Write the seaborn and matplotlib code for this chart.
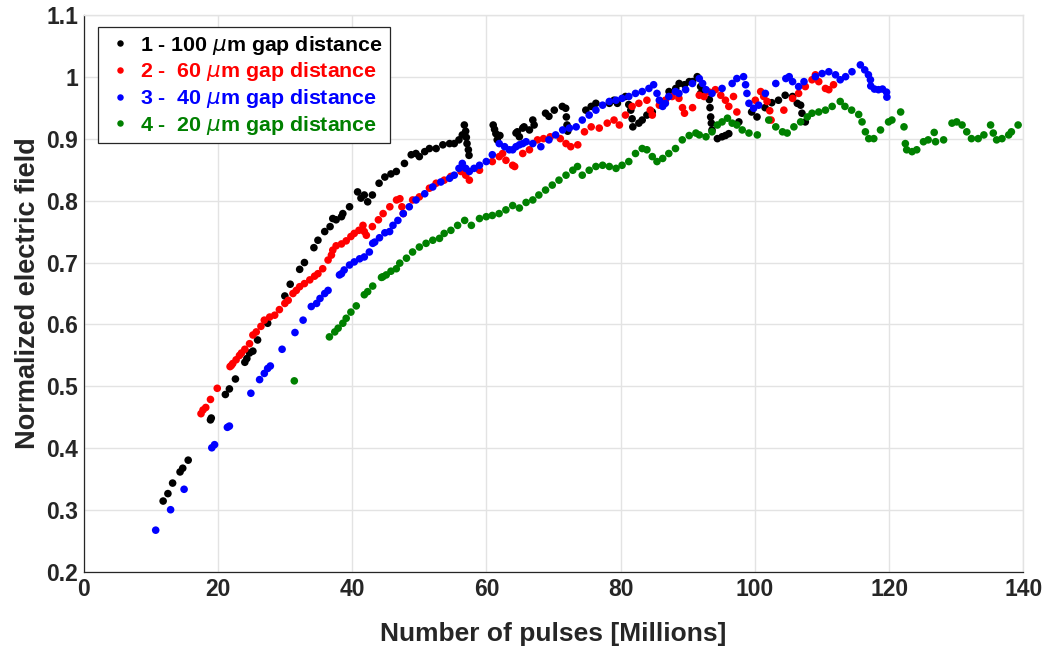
import numpy as np
import pandas as pd
import matplotlib
matplotlib.use("Agg")
import matplotlib.pyplot as plt
import seaborn as sns

# Normalized electric field versus number of pulses for four gap distances
gap_labels = [
    r"1 - 100 $\mu$m gap distance",
    r"2 -  60 $\mu$m gap distance",
    r"3 -  40 $\mu$m gap distance",
    r"4 -  20 $\mu$m gap distance",
]
series_colors = ["#000000", "#ff0000", "#0000ff", "#008000"]

pulses_100 = [11.83, 12.54, 13.24, 14.35, 14.75, 15.56, 18.88, 19.0, 21.1, 21.7, 22.6, 24.0, 24.3,
              24.7, 25.2, 25.9, 27.4, 29.96, 30.76, 32.17, 32.88, 34.29, 34.89, 35.9, 36.7, 37.1,
              37.6, 38.4, 38.6, 39.6, 40.8, 41.3, 41.8, 42.3, 43.0, 44.0, 44.86, 45.77, 46.57,
              47.78, 48.79, 49.49, 50.0, 50.8, 51.5, 52.5, 53.5, 54.5, 55.2, 55.9, 56.4, 56.7,
              56.9, 57.0, 57.1, 57.3, 57.4, 61.0, 61.2, 61.4, 61.6, 62.0, 64.4, 64.6, 64.9, 65.4,
              65.6, 66.4, 66.9, 67.1, 68.8, 69.3, 70.1, 71.3, 71.8, 71.9, 72.0, 72.1, 74.8, 75.6,
              76.3, 78.3, 79.0, 79.5, 80.7, 81.2, 81.5, 81.7, 81.8, 82.7, 83.2, 83.9, 84.7, 87.2,
              88.2, 88.7, 89.5, 90.2, 90.7, 91.4, 91.9, 91.9, 93.2, 93.3, 93.4, 93.5, 93.6, 94.4,
              95.1, 95.6, 96.1, 97.6, 99.5, 100.3, 101.5, 102.5, 103.5, 104.5, 105.6, 106.3,
              106.8, 107.0, 107.5]
field_100 = [0.315, 0.327, 0.344, 0.362, 0.368, 0.381, 0.446, 0.449, 0.487, 0.496, 0.512, 0.539, 0.545,
             0.554, 0.557, 0.575, 0.602, 0.646, 0.665, 0.689, 0.700, 0.724, 0.736, 0.750, 0.758, 0.771,
             0.769, 0.774, 0.779, 0.790, 0.814, 0.804, 0.809, 0.798, 0.809, 0.828, 0.838, 0.843, 0.847,
             0.860, 0.874, 0.876, 0.871, 0.879, 0.884, 0.884, 0.890, 0.892, 0.892, 0.898, 0.906, 0.922,
             0.912, 0.902, 0.892, 0.882, 0.873, 0.922, 0.915, 0.908, 0.898, 0.905, 0.909, 0.911, 0.903,
             0.917, 0.919, 0.914, 0.930, 0.922, 0.941, 0.936, 0.946, 0.952, 0.949, 0.935, 0.922, 0.912,
             0.946, 0.952, 0.957, 0.957, 0.962, 0.957, 0.968, 0.955, 0.946, 0.932, 0.919, 0.925, 0.930,
             0.938, 0.943, 0.976, 0.981, 0.989, 0.987, 0.992, 0.992, 1.000, 0.984, 0.973, 0.963, 0.950,
             0.935, 0.925, 0.914, 0.900, 0.903, 0.905, 0.908, 0.927, 0.943, 0.935, 0.950, 0.958, 0.962,
             0.970, 0.968, 0.957, 0.954, 0.941, 0.927]

pulses_60 = [17.47, 17.77, 18.18, 18.88, 19.89, 21.8, 22.0, 22.2, 22.7, 23.2, 23.5, 24.0, 24.7, 25.2,
             25.7, 26.4, 26.9, 27.7, 28.45, 29.15, 29.96, 30.46, 31.17, 31.67, 32.17, 32.88, 33.68,
             34.39, 34.89, 35.6, 36.4, 36.9, 37.1, 37.6, 38.4, 39.1, 39.8, 40.3, 41.0, 41.6, 41.8, 42.1,
             43.0, 43.9, 44.6, 45.6, 46.6, 47.1, 47.4, 47.6, 49.0, 50.0, 51.5, 52.5, 53.7, 54.7, 56.2,
             56.9, 57.45, 58.96, 60.87, 61.9, 62.4, 62.9, 63.9, 64.2, 65.4, 66.4, 67.6, 68.5, 69.5, 71.0,
             71.85, 72.55, 73.6, 74.6, 75.6, 76.8, 77.99, 79.0, 79.8, 80.7, 81.7, 82.7, 83.9, 84.4, 84.7,
             85.75, 86.65, 87.66, 88.67, 89.2, 89.5, 90.7, 91.7, 92.4, 93.2, 94.1, 94.9, 95.6, 96.1,
             96.8, 97.3, 100.05, 100.85, 101.3, 101.8, 102.2, 102.4, 104.3, 105.6, 106.5, 107.5, 108.5,
             109.0, 109.5, 110.5, 111.0, 111.7]
field_60 = [0.456, 0.462, 0.466, 0.479, 0.497, 0.532, 0.534, 0.537, 0.543, 0.550, 0.554, 0.560, 0.569, 0.583,
            0.588, 0.597, 0.607, 0.612, 0.615, 0.624, 0.634, 0.639, 0.650, 0.655, 0.661, 0.666, 0.672,
            0.678, 0.682, 0.690, 0.704, 0.712, 0.720, 0.727, 0.730, 0.735, 0.742, 0.747, 0.752, 0.760, 0.750,
            0.744, 0.758, 0.769, 0.779, 0.790, 0.801, 0.803, 0.790, 0.779, 0.801, 0.806, 0.820, 0.828, 0.833,
            0.839, 0.847, 0.841, 0.833, 0.849, 0.863, 0.871, 0.876, 0.865, 0.857, 0.855, 0.876, 0.882, 0.898,
            0.900, 0.903, 0.900, 0.892, 0.887, 0.890, 0.911, 0.919, 0.917, 0.925, 0.930, 0.922, 0.938, 0.952,
            0.957, 0.962, 0.946, 0.938, 0.954, 0.962, 0.968, 0.965, 0.950, 0.941, 0.950, 0.970, 0.968, 0.975,
            0.979, 0.970, 0.962, 0.952, 0.968, 0.943, 0.962, 0.976, 0.968, 0.960, 0.945, 0.930, 0.946, 0.965,
            0.973, 0.984, 0.995, 1.003, 0.992, 0.981, 0.979, 0.987]

pulses_40 = [10.72, 12.94, 14.95, 19.08, 19.49, 21.4, 21.7, 24.9, 26.2, 26.9, 27.4, 27.8, 29.55, 31.47,
             32.68, 33.9, 34.69, 35.2, 35.9, 36.4, 38.1, 38.4, 38.8, 39.6, 40.3, 41.1, 41.8, 42.55, 43.05,
             43.35, 44.06, 44.86, 45.57, 46.07, 46.8, 47.6, 48.5, 49.5, 50.8, 52.0, 53.2, 54.5, 55.2, 55.9,
             56.4, 56.9, 57.45, 58.15, 58.96, 59.97, 60.87, 61.9, 62.7, 63.4, 63.9, 64.4, 64.9, 65.4, 65.9,
             66.9, 68.1, 69.3, 70.3, 71.35, 72.35, 73.36, 74.27, 75.3, 76.3, 77.3, 78.3, 79.3, 80.2, 81.2,
             82.2, 83.2, 84.2, 84.9, 85.4, 85.75, 86.25, 86.65, 87.16, 88.16, 88.67, 89.67, 90.68, 91.7,
             92.2, 92.7, 93.6, 95.1, 96.6, 97.3, 98.3, 98.6, 98.8, 99.1, 99.8, 100.55, 101.55, 103.1,
             104.6, 105.1, 105.6, 106.5, 107.3, 109.0, 110.0, 111.0, 112.0, 112.7, 113.5, 114.45, 115.7,
             116.35, 116.9, 117.2, 117.25, 117.8, 118.4, 119.0, 119.6, 119.65]
field_40 = [0.268, 0.301, 0.334, 0.401, 0.406, 0.434, 0.436, 0.489, 0.511, 0.521, 0.529, 0.533, 0.560, 0.587,
            0.607, 0.629, 0.634, 0.642, 0.650, 0.655, 0.680, 0.682, 0.688, 0.696, 0.701, 0.706, 0.709, 0.717,
            0.731, 0.733, 0.740, 0.748, 0.750, 0.760, 0.768, 0.779, 0.790, 0.801, 0.811, 0.822, 0.830, 0.836,
            0.841, 0.852, 0.860, 0.852, 0.847, 0.852, 0.857, 0.863, 0.874, 0.892, 0.887, 0.882, 0.882, 0.887,
            0.890, 0.892, 0.895, 0.892, 0.887, 0.898, 0.906, 0.914, 0.917, 0.919, 0.930, 0.938, 0.946, 0.954,
            0.960, 0.962, 0.965, 0.968, 0.973, 0.976, 0.981, 0.987, 0.973, 0.962, 0.952, 0.957, 0.968, 0.976,
            0.973, 0.979, 0.989, 0.997, 0.989, 0.979, 0.973, 0.981, 0.989, 0.997, 1.000, 0.987, 0.973, 0.957,
            0.949, 0.954, 0.973, 0.989, 0.997, 1.000, 0.992, 0.984, 0.992, 1.000, 1.005, 1.008, 1.003, 0.995,
            1.000, 1.008, 1.019, 1.011, 1.003, 0.995, 0.985, 0.980, 0.979, 0.980, 0.975, 0.967]

pulses_20 = [31.37, 36.6, 37.4, 37.9, 38.6, 39.1, 39.8, 40.6, 41.8, 42.3, 43.05, 44.36, 44.56, 45.06,
             45.77, 46.57, 47.08, 48.08, 48.99, 50.0, 51.0, 52.0, 53.0, 53.7, 54.7, 55.7, 56.75, 57.75,
             58.96, 59.97, 60.87, 61.88, 62.89, 63.9, 64.9, 65.9, 66.9, 67.8, 68.8, 69.8, 70.8, 71.85,
             72.86, 73.56, 74.27, 75.3, 76.3, 77.3, 78.3, 79.3, 80.2, 81.2, 82.2, 83.2, 83.9, 84.7, 85.4,
             86.25, 87.16, 88.16, 89.17, 90.2, 91.2, 91.7, 92.7, 93.6, 94.4, 95.1, 95.9, 96.6, 97.3, 98.1,
             99.1, 100.35, 102.05, 103.1, 104.1, 104.8, 105.8, 106.8, 107.8, 108.5, 109.5, 110.5, 111.5,
             112.7, 113.4, 114.4, 115.45, 115.95, 116.45, 116.95, 117.7, 118.7, 119.9, 120.4, 121.7,
             122.2, 122.4, 122.6, 123.4, 124.1, 125.1, 125.8, 126.7, 126.9, 128.1, 129.35, 130.05,
             130.85, 131.55, 132.25, 133.25, 134.1, 135.1, 135.5, 136.0, 136.8, 137.8, 138.2, 139.2]
field_20 = [0.509, 0.580, 0.588, 0.594, 0.602, 0.610, 0.620, 0.630, 0.648, 0.653, 0.662, 0.676, 0.677, 0.680,
            0.686, 0.690, 0.699, 0.707, 0.717, 0.725, 0.731, 0.736, 0.739, 0.747, 0.752, 0.760, 0.768, 0.760,
            0.771, 0.774, 0.776, 0.779, 0.785, 0.792, 0.788, 0.797, 0.801, 0.809, 0.817, 0.825, 0.833, 0.841,
            0.849, 0.855, 0.841, 0.849, 0.855, 0.857, 0.855, 0.852, 0.857, 0.863, 0.876, 0.884, 0.882, 0.871,
            0.863, 0.868, 0.876, 0.884, 0.898, 0.905, 0.909, 0.906, 0.903, 0.911, 0.922, 0.927, 0.933, 0.925,
            0.922, 0.914, 0.909, 0.906, 0.930, 0.919, 0.911, 0.909, 0.919, 0.927, 0.935, 0.941, 0.943, 0.946,
            0.952, 0.960, 0.952, 0.946, 0.939, 0.927, 0.911, 0.900, 0.900, 0.914, 0.927, 0.930, 0.943, 0.919,
            0.892, 0.882, 0.879, 0.882, 0.895, 0.898, 0.910, 0.895, 0.898, 0.925, 0.927, 0.922, 0.911, 0.900,
            0.900, 0.906, 0.922, 0.909, 0.898, 0.900, 0.906, 0.911, 0.922]

x_ticks = [0, 20, 40, 60, 80, 100, 120, 140]
y_ticks = [0.2, 0.3, 0.4, 0.5, 0.6, 0.7, 0.8, 0.9, 1.0, 1.1]
y_tick_labels = ["0.2", "0.3", "0.4", "0.5", "0.6", "0.7", "0.8", "0.9", "1", "1.1"]

frames = []
for label, xs, ys in zip(gap_labels,
                         [pulses_100, pulses_60, pulses_40, pulses_20],
                         [field_100, field_60, field_40, field_20]):
    frames.append(pd.DataFrame({"pulses": xs, "field": ys, "gap": label}))
data = pd.concat(frames, ignore_index=True)

sns.set_style("whitegrid")
plt.rcParams["font.family"] = ["Liberation Sans", "DejaVu Sans"]
plt.rcParams["font.weight"] = "bold"
plt.rcParams["mathtext.fontset"] = "custom"
plt.rcParams["mathtext.rm"] = "Liberation Sans:bold"
plt.rcParams["mathtext.it"] = "DejaVu Sans:italic:normal"
plt.rcParams["mathtext.bf"] = "Liberation Sans:bold"

fig = plt.figure(figsize=(10.48, 6.46), dpi=100)
ax = fig.add_axes([0.0799, 0.1141, 0.8967, 0.8631])

sns.scatterplot(data=data, x="pulses", y="field", hue="gap", hue_order=gap_labels,
                palette=series_colors, s=30, linewidth=0, edgecolor="none", ax=ax, legend=True)

ax.set_xlim(0, 140)
ax.set_ylim(0.2, 1.1)
ax.set_xticks(x_ticks)
ax.set_xticklabels([str(t) for t in x_ticks])
ax.set_yticks(y_ticks)
ax.set_yticklabels(y_tick_labels)
ax.tick_params(axis="both", which="major", labelsize=16.5, direction="in", length=5,
               width=0.8, color="#262626", labelcolor="#262626", pad=4)
for lbl in ax.get_xticklabels() + ax.get_yticklabels():
    lbl.set_fontweight("bold")

ax.grid(True, color="#e3e3e3", linewidth=1.0)
ax.set_axisbelow(True)
for side in ("left", "bottom"):
    ax.spines[side].set_color("#262626")
    ax.spines[side].set_linewidth(0.9)
for side in ("top", "right"):
    ax.spines[side].set_color("#e3e3e3")
    ax.spines[side].set_linewidth(1.0)

ax.set_xlabel("Number of pulses [Millions]", fontsize=19, fontweight="bold", color="#262626", labelpad=15)
ax.set_ylabel("Normalized electric field", fontsize=19.5, fontweight="bold", color="#262626", labelpad=4)

leg = ax.legend(loc="upper left", bbox_to_anchor=(0.011, 0.985), frameon=True, fancybox=False,
                markerscale=0.85, handletextpad=0.25, borderpad=0.3,
                labelspacing=0.17, handlelength=1.4, borderaxespad=0.2,
                prop={"weight": "bold", "size": 15.4})
leg.get_frame().set_edgecolor("#262626")
leg.get_frame().set_linewidth(0.9)
leg.get_frame().set_alpha(1.0)
for text, color in zip(leg.get_texts(), series_colors):
    text.set_color(color)

fig.savefig("out.png", dpi=100)
